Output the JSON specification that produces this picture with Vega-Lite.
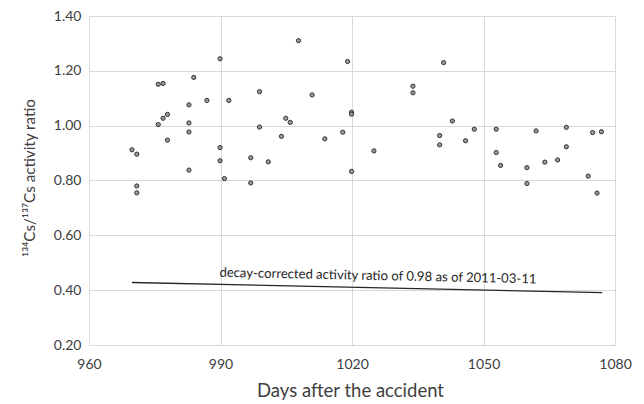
{
  "$schema": "https://vega.github.io/schema/vega-lite/v6.json",
  "width": 526,
  "height": 329,
  "autosize": {"type": "none"},
  "padding": {"left": 89, "top": 16, "right": 29, "bottom": 59},
  "background": "white",
  "config": {
    "font": "Lato",
    "view": {"stroke": null},
    "axis": {
      "gridColor": "#d9d9d9",
      "domainColor": "#d9d9d9",
      "ticks": false,
      "labelFont": "Lato",
      "titleFont": "Lato",
      "labelColor": "#404040",
      "titleColor": "#404040",
      "labelFontSize": 14,
      "titleFontSize": 18.5,
      "titleFontWeight": "normal"
    }
  },
  "datasets": {
    "pts": [
      {"day": 969.8, "ratio": 0.912},
      {"day": 970.9, "ratio": 0.896},
      {"day": 970.9, "ratio": 0.780},
      {"day": 970.9, "ratio": 0.755},
      {"day": 975.8, "ratio": 1.151},
      {"day": 976.9, "ratio": 1.154},
      {"day": 975.8, "ratio": 1.004},
      {"day": 976.9, "ratio": 1.027},
      {"day": 977.9, "ratio": 1.041},
      {"day": 977.9, "ratio": 0.947},
      {"day": 982.8, "ratio": 1.076},
      {"day": 982.8, "ratio": 1.010},
      {"day": 982.8, "ratio": 0.977},
      {"day": 982.8, "ratio": 0.838},
      {"day": 983.9, "ratio": 1.176},
      {"day": 986.9, "ratio": 1.092},
      {"day": 989.9, "ratio": 1.244},
      {"day": 989.9, "ratio": 0.920},
      {"day": 989.9, "ratio": 0.872},
      {"day": 990.9, "ratio": 0.807},
      {"day": 991.9, "ratio": 1.092},
      {"day": 996.9, "ratio": 0.883},
      {"day": 996.9, "ratio": 0.791},
      {"day": 998.9, "ratio": 1.124},
      {"day": 998.9, "ratio": 0.995},
      {"day": 1000.9, "ratio": 0.868},
      {"day": 1003.9, "ratio": 0.961},
      {"day": 1004.9, "ratio": 1.027},
      {"day": 1005.9, "ratio": 1.012},
      {"day": 1007.8, "ratio": 1.310},
      {"day": 1010.9, "ratio": 1.112},
      {"day": 1013.8, "ratio": 0.952},
      {"day": 1017.9, "ratio": 0.976},
      {"day": 1019.0, "ratio": 1.234},
      {"day": 1019.9, "ratio": 1.049},
      {"day": 1019.9, "ratio": 1.042},
      {"day": 1019.9, "ratio": 0.833},
      {"day": 1025.0, "ratio": 0.908},
      {"day": 1033.9, "ratio": 1.144},
      {"day": 1033.9, "ratio": 1.120},
      {"day": 1040.0, "ratio": 0.964},
      {"day": 1040.0, "ratio": 0.930},
      {"day": 1040.9, "ratio": 1.230},
      {"day": 1042.9, "ratio": 1.017},
      {"day": 1045.9, "ratio": 0.945},
      {"day": 1047.9, "ratio": 0.987},
      {"day": 1052.9, "ratio": 0.987},
      {"day": 1052.9, "ratio": 0.902},
      {"day": 1053.9, "ratio": 0.855},
      {"day": 1059.9, "ratio": 0.847},
      {"day": 1059.9, "ratio": 0.789},
      {"day": 1062.0, "ratio": 0.981},
      {"day": 1064.0, "ratio": 0.867},
      {"day": 1066.9, "ratio": 0.875},
      {"day": 1068.9, "ratio": 0.994},
      {"day": 1068.9, "ratio": 0.923},
      {"day": 1073.9, "ratio": 0.816},
      {"day": 1074.9, "ratio": 0.975},
      {"day": 1075.9, "ratio": 0.754},
      {"day": 1076.9, "ratio": 0.978}
    ],
    "decay": [
      {"day": 969.8, "ratio": 0.428},
      {"day": 1077.1, "ratio": 0.391}
    ],
    "label": [
      {"day": 1025.9, "ratio": 0.437, "text": "decay-corrected activity ratio of 0.98 as of 2011-03-11"}
    ]
  },
  "layer": [
    {
      "data": {"name": "decay"},
      "mark": {"type": "line", "color": "#262626", "strokeWidth": 1.4},
      "encoding": {
        "x": {
          "field": "day", "type": "quantitative",
          "scale": {"domain": [960, 1080], "nice": false, "zero": false},
          "axis": {"values": [960, 990, 1020, 1050, 1080], "format": "d", "title": "Days after the accident", "labelPadding": 23, "labelBaseline": "alphabetic", "labelFlush": false, "titleX": 261, "titleY": 51, "titleBaseline": "alphabetic", "titleAlign": "center"}
        },
        "y": {
          "field": "ratio", "type": "quantitative",
          "scale": {"domain": [0.2, 1.4], "nice": false, "zero": false},
          "axis": {"values": [0.2, 0.4, 0.6, 0.8, 1.0, 1.2, 1.4], "format": ".2f", "title": "¹³⁴Cs/¹³⁷Cs activity ratio", "titleFontSize": 15.2, "labelPadding": 8, "titleX": -55, "titleY": 161.5, "titleBaseline": "alphabetic", "titleAlign": "center", "titleAngle": -90}
        }
      }
    },
    {
      "data": {"name": "pts"},
      "mark": {"type": "point", "shape": "circle", "filled": true, "fill": "#999999", "stroke": "#333333", "strokeWidth": 1, "size": 18, "opacity": 1},
      "encoding": {
        "x": {"field": "day", "type": "quantitative"},
        "y": {"field": "ratio", "type": "quantitative"}
      }
    },
    {
      "data": {"name": "label"},
      "mark": {"type": "text", "font": "Lato", "fontSize": 13.1, "color": "#262626", "align": "center", "baseline": "alphabetic", "angle": 1.2},
      "encoding": {
        "x": {"field": "day", "type": "quantitative"},
        "y": {"field": "ratio", "type": "quantitative"},
        "text": {"field": "text"}
      }
    }
  ]
}
